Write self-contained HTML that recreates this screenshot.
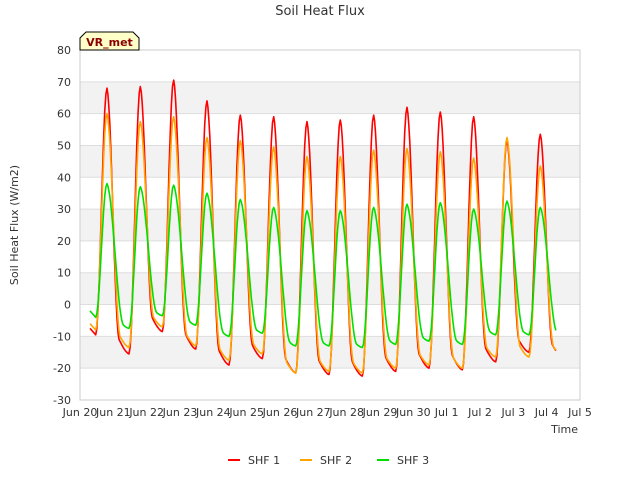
<!DOCTYPE html>
<html><head><meta charset="utf-8"><style>
body{margin:0;background:#fff;font-family:"DejaVu Sans","Liberation Sans",sans-serif}
</style></head><body>
<svg id="chart" width="640" height="480" xmlns="http://www.w3.org/2000/svg" font-family="DejaVu Sans, Liberation Sans, sans-serif">
<rect width="640" height="480" fill="#fff"/>
<text x="320" y="15" text-anchor="middle" font-size="13" fill="#333">Soil Heat Flux</text>
<g id="bands"></g>
<g id="grid"></g>
<rect x="80" y="50" width="500" height="350" fill="none" stroke="#ccc"/>
<g id="yticks" font-size="11" fill="#333"></g>
<g id="xticks" font-size="11" fill="#333"></g>
<text transform="translate(18,225) rotate(-90)" text-anchor="middle" font-size="11" fill="#333">Soil Heat Flux (W/m2)</text>
<text x="578" y="433" text-anchor="end" font-size="11" fill="#333">Time</text>
<g id="series"></g>
<g>
<path d="M80,50 L80,38 L86,32 L133,32 L139,38 L139,50 Z" fill="#ffffc8" stroke="#000"/>
<text x="109.5" y="46" text-anchor="middle" font-size="11" font-weight="bold" fill="#8b0000">VR_met</text>
</g>
<g id="legend" font-size="11" fill="#333"></g>
</svg>
<script>
const days = [0,1,2,3,4,5,6,7,8,9,10,11,12,13];
const peaks1 = [68,68.5,70.5,64,59.5,59,57.5,58,59.5,62,60.5,59,51.5,53.5];
const peaks2 = [60,57.5,59,52.5,51.5,49.5,46.5,46.5,48.5,49,48,46,52.5,43.5];
const peaks3 = [38,37,37.5,35,33,30.5,29.5,29.5,30.5,31.5,32,30,32.5,30.5];
const troughs1 = [-9.5,-15.5,-8.5,-14,-19,-17,-21.5,-22,-22.5,-21,-20,-20.5,-18,-15,-16.5];
const troughs2 = [-8,-13.5,-7,-13,-17.5,-15.5,-21.5,-21,-21.5,-20,-19,-20,-16.5,-16.5,-16];
const troughs3 = [-4,-7.5,-3.5,-6.5,-10,-9,-13,-13,-13.5,-12.5,-11.5,-12.5,-9.5,-9.5,-9.5];
const yTicks = [-30,-20,-10,0,10,20,30,40,50,60,70,80];
const xTickLabels = ["Jun 20","Jun 21","Jun 22","Jun 23","Jun 24","Jun 25","Jun 26","Jun 27","Jun 28","Jun 29","Jun 30","Jul 1","Jul 2","Jul 3","Jul 4","Jul 5"];
const seriesNames = ["SHF 1","SHF 2","SHF 3"];
const colors = ["#ff0000","#ffa500","#00e000"];
const fallWidth = [0.55,0.6,0.75];

const NS="http://www.w3.org/2000/svg";
const X = d => 80 + d*500/15;
const Y = v => 400 - (v+30)*350/110;
function mk(tag, attrs, parent){const e=document.createElementNS(NS,tag);for(const k in attrs)e.setAttribute(k,attrs[k]);parent.appendChild(e);return e;}
const bands=document.getElementById('bands'), grid=document.getElementById('grid');
[-20,0,20,40,60].forEach(v=>{
  const r=mk('rect',{x:80,y:Y(v+10),width:500,height:Y(v)-Y(v+10),fill:'#f2f2f2'},bands);
  
  
});
const yt=document.getElementById('yticks');
yTicks.forEach(v=>{
  const l=mk('line',{x1:80,x2:580,y1:Y(v),y2:Y(v),stroke:'#ddd'},grid);
  
  
  const t=mk('text',{x:71,y:Y(v)+4,'text-anchor':'end'},yt);t.textContent=v;
  
  
});
const xt=document.getElementById('xticks');
xTickLabels.forEach((s,i)=>{
  const t=mk('text',{x:X(i),y:416,'text-anchor':'middle'},xt);t.textContent=s;
  
  
});
function build(peaks,troughs,fw){
  const pts=[];const TR=0.47,PK=0.81;
  pts.push([0.3,troughs[0]+2]);
  days.forEach((d,i)=>{
    const T=troughs[i],P=peaks[i],Tn=troughs[i+1];
    const rs=d+TR, pe=d+PK;
    for(let k=0;k<=10;k++){const v=k/10;pts.push([rs+(pe-rs)*v, T+(P-T)*(0.5-0.5*Math.cos(Math.PI*v))]);}
    const end = (i==days.length-1)? d+1.3 : d+1+TR;
    for(let k=1;k<=24;k++){const u=k/24;const f=0.82*(0.5+0.5*Math.cos(Math.PI*Math.min(u/fw,1)))+0.18*Math.pow(1-u,1.5);
      const uu=(pe+((d+1+TR)-pe)*u);if(uu>end)break;pts.push([uu, Tn+(P-Tn)*f]);}
  });
  return pts;
}
const sg=document.getElementById('series');
[[peaks1,troughs1],[peaks2,troughs2],[peaks3,troughs3]].forEach((s,i)=>{
  const pts=build(s[0],s[1],fallWidth[i]);
  const d=pts.map((p,j)=>(j?'L':'M')+X(p[0]).toFixed(1)+','+Y(p[1]).toFixed(1)).join('');
  const p=mk('path',{d:d,fill:'none',stroke:colors[i],'stroke-width':1.6,'stroke-linejoin':'round'},sg);
  
  
});
const lg=document.getElementById('legend');
const lx=[228,300,377];
seriesNames.forEach((n,i)=>{
  const l=mk('line',{x1:lx[i],x2:lx[i]+12,y1:460,y2:460,stroke:colors[i],'stroke-width':2},lg);
  
  
  const t=mk('text',{x:lx[i]+20,y:464},lg);t.textContent=n;
  
  
});
</script>
</body></html>
